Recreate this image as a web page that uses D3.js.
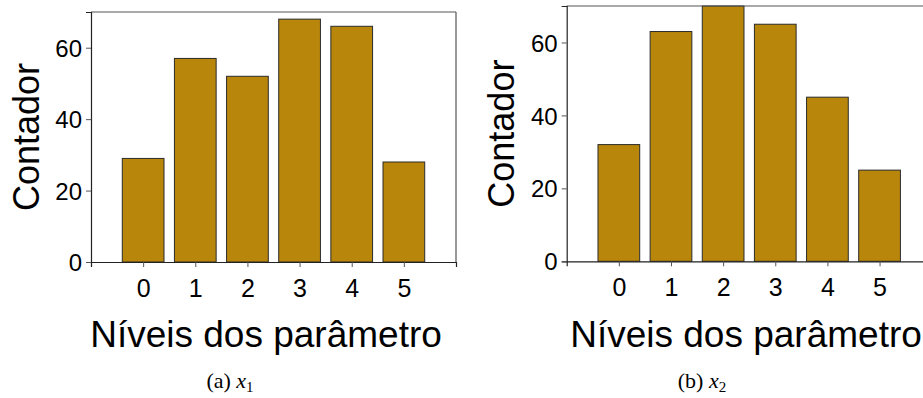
<!DOCTYPE html>
<html>
<head>
<meta charset="utf-8">
<script src="https://cdn.jsdelivr.net/npm/d3@7"></script>
<style>
  html, body { margin: 0; padding: 0; background: #fff; }
  svg { display: block; }
  .tick text { font-family: "Liberation Sans", Arial, sans-serif; fill: #000; }
</style>
</head>
<body>
<svg id="fig" width="923" height="398"></svg>
<script>
// Parameter levels and how often each level was observed
const levels = [0, 1, 2, 3, 4, 5];
const countsX1 = [29, 57, 52, 68, 66, 28];
const countsX2 = [32, 63, 70, 65, 45, 25];
const yTicks = [0, 20, 40, 60];
const yLabel = "Contador";
const xLabel = "Níveis dos parâmetro";
const captions = [
  { tag: "(a) ", sym: "x", sub: "1" },
  { tag: "(b) ", sym: "x", sub: "2" }
];

const svg = d3.select("#fig");
const barFill = "#b8860b";
const sans = "'Liberation Sans', Arial, sans-serif";

const panels = [
  { counts: countsX1, left: 91, right: 456, top: 12, bottom: 262, ylabX: 39, xlabX: 266, cap: captions[0], capX: 230 },
  { counts: countsX2, left: 566.7, right: 931.7, top: 6, bottom: 261.3, ylabX: 514, xlabX: 746, cap: captions[1], capX: 702 }
];

panels.forEach(p => {
  const x = d3.scaleLinear().domain([-1, 6]).range([p.left, p.right]);
  const y = d3.scaleLinear().domain([0, 70]).range([p.bottom, p.top]);
  const g = svg.append("g");

  // bars, 0.8 level units wide
  g.selectAll("rect.bar")
    .data(levels)
    .join("rect")
    .attr("class", "bar")
    .attr("x", d => x(d - 0.4))
    .attr("width", x(0.4) - x(-0.4))
    .attr("y", (d, i) => y(p.counts[i]))
    .attr("height", (d, i) => y(0) - y(p.counts[i]))
    .attr("fill", barFill)
    .attr("stroke", "#2b2b2b")
    .attr("stroke-width", 1);

  // top and right frame lines
  g.append("line").attr("x1", p.left).attr("x2", p.right).attr("y1", p.top).attr("y2", p.top)
    .attr("stroke", "#555").attr("stroke-width", 1.2);
  g.append("line").attr("x1", p.right).attr("x2", p.right).attr("y1", p.top).attr("y2", p.bottom)
    .attr("stroke", "#555").attr("stroke-width", 1.2);

  // axes
  const xAxis = d3.axisBottom(x).tickValues(levels).tickSize(5).tickPadding(12).tickFormat(d3.format("d"));
  const gx = g.append("g").attr("transform", `translate(0,${p.bottom})`).call(xAxis);
  gx.select(".domain").attr("stroke", "#222").attr("stroke-width", 1.2);
  gx.selectAll(".tick line").attr("stroke", "#555");
  gx.selectAll(".tick text").attr("font-size", 25).attr("font-family", sans);

  const yAxis = d3.axisLeft(y).tickValues(yTicks).tickSize(5).tickPadding(4);
  const gy = g.append("g").attr("transform", `translate(${p.left},0)`).call(yAxis);
  gy.select(".domain").attr("stroke", "#222").attr("stroke-width", 1.2);
  gy.selectAll(".tick line").attr("stroke", "#555");
  gy.selectAll(".tick text").attr("font-size", 24).attr("font-family", sans).attr("dy", "0.36em");

  // axis titles
  g.append("text")
    .attr("transform", `translate(${p.ylabX},${(p.top + p.bottom) / 2}) rotate(-90)`)
    .attr("text-anchor", "middle")
    .attr("font-family", sans)
    .attr("font-size", 36)
    .text(yLabel);

  g.append("text")
    .attr("x", p.xlabX)
    .attr("y", 347)
    .attr("text-anchor", "middle")
    .attr("font-family", sans)
    .attr("font-size", 37)
    .text(xLabel);

  // subfigure caption
  const cap = g.append("text")
    .attr("x", p.capX)
    .attr("y", 388)
    .attr("text-anchor", "middle")
    .attr("font-family", "'Liberation Serif', 'Times New Roman', serif")
    .attr("font-size", 22);
  cap.append("tspan").text(p.cap.tag);
  cap.append("tspan").attr("font-style", "italic").text(p.cap.sym);
  cap.append("tspan").attr("font-size", 15).attr("dy", 4).text(p.cap.sub);
});
</script>
</body>
</html>
